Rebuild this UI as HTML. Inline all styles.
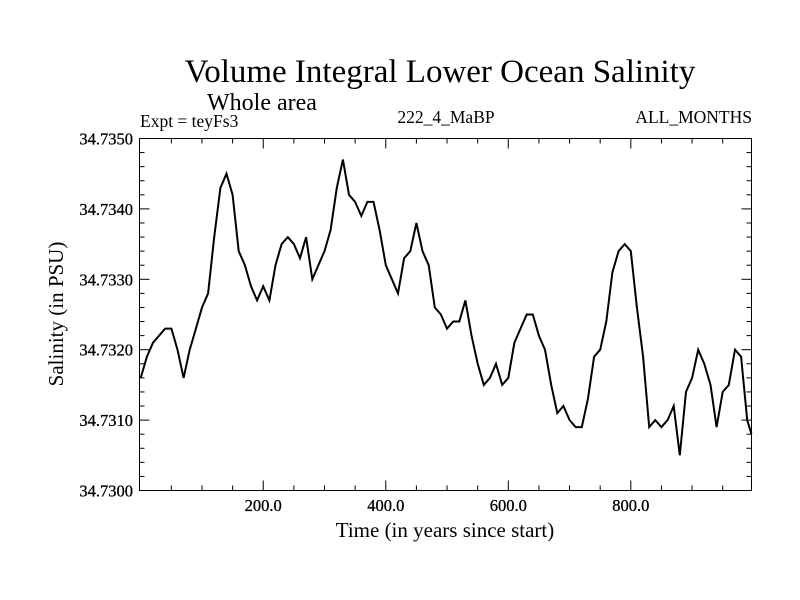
<!DOCTYPE html>
<html><head><meta charset="utf-8"><style>
body{margin:0;background:#fff}
svg{display:block;font-family:"Liberation Serif",serif}
</style></head><body>
<svg id="chart" width="800" height="600" xmlns="http://www.w3.org/2000/svg">
<rect width="800" height="600" fill="#fff"/>
<text x="440" y="82" font-size="33" text-anchor="middle">Volume Integral Lower Ocean Salinity</text>
<text x="207" y="110" font-size="24">Whole area</text>
<text x="140" y="127" font-size="17.5">Expt = teyFs3</text>
<text x="446" y="123" font-size="17.5" text-anchor="middle">222_4_MaBP</text>
<text x="752" y="123" font-size="17.5" text-anchor="end">ALL_MONTHS</text>
<text x="445" y="537" font-size="21" text-anchor="middle">Time (in years since start)</text>
<text transform="translate(63,314) rotate(-90)" font-size="21" text-anchor="middle">Salinity (in PSU)</text>
<g id="ticks"></g>
<g id="series"></g>
<rect x="139.5" y="138.5" width="612" height="352" fill="none" stroke="#000" stroke-width="1"/>
</svg>
<script>
const years = [0,10,20,30,40,50,60,70,80,90,100,110,120,130,140,150,160,170,180,190,200,210,220,230,240,250,260,270,280,290,300,310,320,330,340,350,360,370,380,390,400,410,420,430,440,450,460,470,480,490,500,510,520,530,540,550,560,570,580,590,600,610,620,630,640,650,660,670,680,690,700,710,720,730,740,750,760,770,780,790,800,810,820,830,840,850,860,870,880,890,900,910,920,930,940,950,960,970,980,990,997];
const salinity = [34.7316,34.7319,34.7321,34.7322,34.7323,34.7323,34.7320,34.7316,34.7320,34.7323,34.7326,34.7328,34.7336,34.7343,34.7345,34.7342,34.7334,34.7332,34.7329,34.7327,34.7329,34.7327,34.7332,34.7335,34.7336,34.7335,34.7333,34.7336,34.7330,34.7332,34.7334,34.7337,34.7343,34.7347,34.7342,34.7341,34.7339,34.7341,34.7341,34.7337,34.7332,34.7330,34.7328,34.7333,34.7334,34.7338,34.7334,34.7332,34.7326,34.7325,34.7323,34.7324,34.7324,34.7327,34.7322,34.7318,34.7315,34.7316,34.7318,34.7315,34.7316,34.7321,34.7323,34.7325,34.7325,34.7322,34.7320,34.7315,34.7311,34.7312,34.7310,34.7309,34.7309,34.7313,34.7319,34.7320,34.7324,34.7331,34.7334,34.7335,34.7334,34.7326,34.7319,34.7309,34.7310,34.7309,34.7310,34.7312,34.7305,34.7314,34.7316,34.7320,34.7318,34.7315,34.7309,34.7314,34.7315,34.7320,34.7319,34.7310,34.7308];
const xTicks = [200,400,600,800];
const xTickLabels = ["200.0","400.0","600.0","800.0"];
const yTicks = [34.7300,34.7310,34.7320,34.7330,34.7340,34.7350];
const yTickLabels = ["34.7300","34.7310","34.7320","34.7330","34.7340","34.7350"];

const X0=139.5,X1=751.5,Y0=490.5,Y1=138.5;
const xMin=-2,xMax=997, yMin=34.7300,yMax=34.7350;
const sx=v=>X0+(v-xMin)/(xMax-xMin)*(X1-X0);
const sy=v=>Y0-(v-yMin)/(yMax-yMin)*(Y0-Y1);
const NS="http://www.w3.org/2000/svg";
const tg=document.getElementById('ticks');
function line(x1,y1,x2,y2,name){
  const l=document.createElementNS(NS,'line');
  l.setAttribute('x1',x1);l.setAttribute('y1',y1);l.setAttribute('x2',x2);l.setAttribute('y2',y2);
  l.setAttribute('stroke','#000');
  
  
  tg.appendChild(l);
}
function text(x,y,s,anchor,name){
  const t=document.createElementNS(NS,'text');
  t.setAttribute('x',x);t.setAttribute('y',y);t.setAttribute('font-size','16.5');t.setAttribute('text-anchor',anchor);
  t.setAttribute('stroke','#000');t.setAttribute('stroke-width','0.3');
  t.textContent=s;
  
  
  tg.appendChild(t);
}
for(let v=50;v<xMax;v+=50){
  const major=v%200===0, L=major?10:5, x=sx(v);
  line(x,Y0,x,Y0-L,'x-tick');
  line(x,Y1,x,Y1+L,'x-tick-top');
}
xTicks.forEach((v,i)=>text(sx(v),511,xTickLabels[i],'middle','x-tick-label'));
for(let k=0;k<=25;k++){
  const v=yMin+k*0.0002, major=k%5===0, L=major?10:5, y=sy(v);
  line(X0,y,X0+L,y,'y-tick');
  line(X1,y,X1-L,y,'y-tick-right');
}
yTicks.forEach((v,i)=>text(133,sy(v)+6,yTickLabels[i],'end','y-tick-label'));
const p=document.createElementNS(NS,'polyline');
p.setAttribute('points',years.map((t,i)=>sx(t).toFixed(1)+','+sy(salinity[i]).toFixed(1)).join(' '));
p.setAttribute('fill','none');p.setAttribute('stroke','#000');p.setAttribute('stroke-width','2');


document.getElementById('series').appendChild(p);
</script>
</body></html>
